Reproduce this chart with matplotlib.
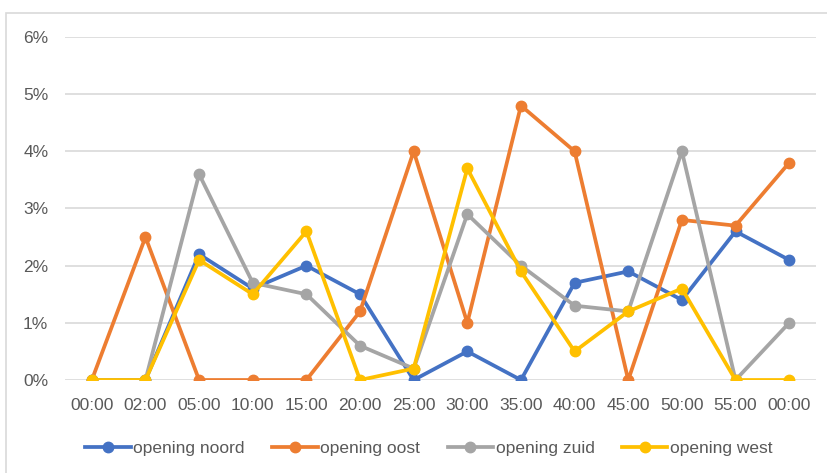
import matplotlib
matplotlib.use("Agg")
import matplotlib.pyplot as plt
from matplotlib.patches import Rectangle
from matplotlib.ticker import FuncFormatter

# tijdstippen en aandeel per opening (%)
tijden = ["00:00", "02:00", "05:00", "10:00", "15:00", "20:00", "25:00",
          "30:00", "35:00", "40:00", "45:00", "50:00", "55:00", "00:00"]
noord = [0, 0, 2.2, 1.6, 2.0, 1.5, 0, 0.5, 0, 1.7, 1.9, 1.4, 2.6, 2.1]
oost = [0, 2.5, 0, 0, 0, 1.2, 4.0, 1.0, 4.8, 4.0, 0, 2.8, 2.7, 3.8]
zuid = [0, 0, 3.6, 1.7, 1.5, 0.6, 0.2, 2.9, 2.0, 1.3, 1.2, 4.0, 0, 1.0]
west = [0, 0, 2.1, 1.5, 2.6, 0, 0.2, 3.7, 1.9, 0.5, 1.2, 1.6, 0, 0]

reeksen = [
    ("opening noord", noord, "#4472c4"),
    ("opening oost", oost, "#ed7d31"),
    ("opening zuid", zuid, "#a5a5a5"),
    ("opening west", west, "#ffc000"),
]

plt.rcParams['font.family'] = ['Liberation Sans', 'DejaVu Sans']
tekst = "#595959"

fig = plt.figure(figsize=(8.28, 4.73), dpi=100)
ax = fig.add_axes([0.0785, 0.1966, 0.907, 0.7252])

# kader om de grafiek
fig.patches.append(Rectangle((6 / 828, -0.1), 1.2, 1 - 13 / 473 + 0.1,
                             transform=fig.transFigure, fill=False,
                             edgecolor="#d9d9d9", lw=1.2))

x = list(range(len(tijden)))
for naam, waarden, kleur in reeksen:
    ax.plot(x, waarden, color=kleur, lw=2.7, marker="o", ms=7.5,
            label=naam, solid_joinstyle="round")

ax.set_xlim(-0.5, len(tijden) - 0.5)
ax.set_ylim(0, 6)
ax.set_yticks(range(0, 7))
ax.yaxis.set_major_formatter(FuncFormatter(lambda v, p: f"{v:.0f}%"))
ax.set_xticks(x)
ax.set_xticklabels(tijden)

ax.grid(axis="y", color="#d9d9d9", lw=1.2)
ax.set_axisbelow(True)
for s in ax.spines.values():
    s.set_visible(False)
ax.tick_params(length=0, labelsize=12.5, labelcolor=tekst)
ax.tick_params(axis="x", pad=13)
ax.tick_params(axis="y", pad=12)

fig.legend(loc="center", bbox_to_anchor=(0.518, 0.052), ncol=4, frameon=False,
           handlelength=2.6, handletextpad=0.15, columnspacing=1.6,
           fontsize=12.5, labelcolor=tekst)

fig.savefig("out.png", dpi=100)
